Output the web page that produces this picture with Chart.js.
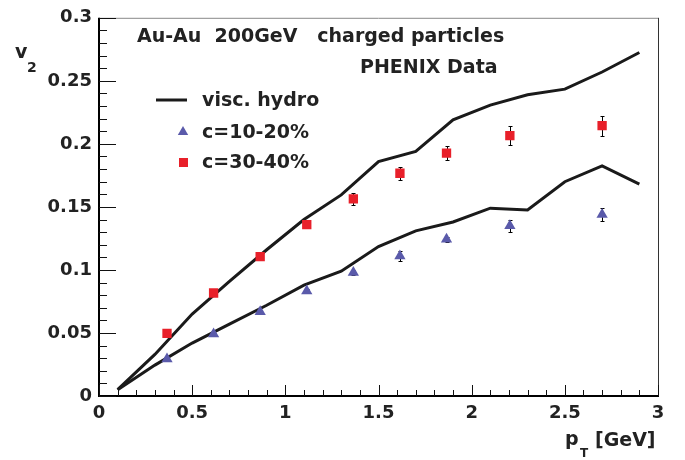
<!DOCTYPE html>
<html lang="en">
<head>
<meta charset="UTF-8">
<title>v2 vs pT - Au-Au 200GeV charged particles</title>
<script src="https://cdn.jsdelivr.net/npm/chart.js"></script>
<style>
    body { margin: 0; background: #fff; }
    canvas { display: block; }
</style>
</head>
<body>
<canvas id="v2Chart" width="685" height="460"></canvas>

<script>
    // viscous hydro curves, one value every 0.2 GeV
    const hydroPt = [0.1, 0.3, 0.5, 0.7, 0.9, 1.1, 1.3, 1.5, 1.7, 1.9, 2.1, 2.3, 2.5, 2.7, 2.9];
    const hydroCentral = [0.005, 0.0245, 0.042, 0.057, 0.072, 0.088, 0.099, 0.1185, 0.131, 0.138, 0.149, 0.1476, 0.170, 0.1825, 0.168];
    const hydroPeripheral = [0.005, 0.033, 0.065, 0.091, 0.116, 0.140, 0.1595, 0.186, 0.194, 0.219, 0.2307, 0.239, 0.2434, 0.257, 0.2725];

    // PHENIX data points
    const dataPt = [0.365, 0.615, 0.865, 1.115, 1.365, 1.615, 1.865, 2.205, 2.7];
    const v2Central = [0.0294, 0.0492, 0.0669, 0.0833, 0.0979, 0.111, 0.1243, 0.135, 0.144];
    const v2CentralErr = [0.001, 0.001, 0.0015, 0.0015, 0.002, 0.004, 0.002, 0.005, 0.005];
    const v2Peripheral = [0.0497, 0.0817, 0.1106, 0.1359, 0.1563, 0.1767, 0.1926, 0.2066, 0.2145];
    const v2PeripheralErr = [0.0015, 0.0015, 0.0015, 0.002, 0.005, 0.005, 0.0055, 0.0073, 0.008];

    const xTicks = [0, 0.5, 1, 1.5, 2, 2.5, 3];
    const xTickLabels = ['0', '0.5', '1', '1.5', '2', '2.5', '3'];
    const yTicks = [0, 0.05, 0.1, 0.15, 0.2, 0.25, 0.3];
    const yTickLabels = ['0', '0.05', '0.1', '0.15', '0.2', '0.25', '0.3'];

    const FONT = 'DejaVu Sans';
    const INK = '#222';
    const BLUE = '#5a5aaa';
    const RED = '#e8202a';

    function toPoints(xs, ys) {
        return xs.map((x, i) => ({ x: x, y: ys[i] }));
    }

    function triangle(ctx, x, y, r) {
        ctx.beginPath();
        ctx.moveTo(x, y - r);
        ctx.lineTo(x + r * 0.866, y + r / 2);
        ctx.lineTo(x - r * 0.866, y + r / 2);
        ctx.closePath();
        ctx.fill();
    }

    // vertical error bars with small caps, under the markers
    const errorBars = {
        id: 'errorBars',
        beforeDatasetsDraw(chart) {
            const ctx = chart.ctx, sx = chart.scales.x, sy = chart.scales.y;
            ctx.save();
            ctx.strokeStyle = '#000';
            ctx.lineWidth = 1;
            chart.data.datasets.forEach(ds => {
                if (!ds.errors) return;
                ds.data.forEach((p, i) => {
                    const px = Math.round(sx.getPixelForValue(p.x)) + 0.5;
                    const top = Math.round(sy.getPixelForValue(p.y + ds.errors[i])) + 0.5;
                    const bot = Math.round(sy.getPixelForValue(p.y - ds.errors[i])) + 0.5;
                    ctx.beginPath();
                    ctx.moveTo(px, top); ctx.lineTo(px, bot);
                    ctx.moveTo(px - 2, top); ctx.lineTo(px + 2, top);
                    ctx.moveTo(px - 2, bot); ctx.lineTo(px + 2, bot);
                    ctx.stroke();
                });
            });
            ctx.restore();
        }
    };

    // frame, inward ticks, titles and legend
    const decorations = {
        id: 'decorations',
        afterDraw(chart) {
            const ctx = chart.ctx, a = chart.chartArea;
            const sx = chart.scales.x, sy = chart.scales.y;
            ctx.save();

            // frame
            ctx.strokeStyle = '#888';
            ctx.lineWidth = 1;
            ctx.beginPath();
            ctx.moveTo(a.left, a.top + 0.5); ctx.lineTo(a.right, a.top + 0.5);
            ctx.stroke();
            ctx.strokeStyle = '#333';
            ctx.beginPath();
            ctx.moveTo(a.right + 0.5, a.top); ctx.lineTo(a.right + 0.5, a.bottom);
            ctx.stroke();
            ctx.strokeStyle = '#000';
            ctx.lineWidth = 2;
            ctx.beginPath();
            ctx.moveTo(a.left, a.top); ctx.lineTo(a.left, a.bottom);
            ctx.lineTo(a.right + 1, a.bottom);
            ctx.stroke();

            // ticks
            ctx.lineWidth = 1;
            ctx.strokeStyle = '#111';
            ctx.beginPath();
            for (let i = 0; i <= 30; i++) {
                const py = Math.round(sy.getPixelForValue(i / 100)) + 0.5;
                ctx.moveTo(a.left, py);
                ctx.lineTo(a.left + (i % 5 === 0 ? 17 : 8), py);
                const px = Math.round(sx.getPixelForValue(i / 10)) + 0.5;
                ctx.moveTo(px, a.bottom);
                ctx.lineTo(px, a.bottom - (i % 5 === 0 ? 11 : 6));
            }
            ctx.stroke();

            // header
            ctx.fillStyle = INK;
            ctx.textBaseline = 'alphabetic';
            ctx.font = 'bold 19px ' + FONT;
            ctx.fillText('Au-Au  200GeV   charged particles', 137, 42);
            ctx.fillText('PHENIX Data', 360, 73);

            // legend
            ctx.strokeStyle = '#1a1a1a';
            ctx.lineWidth = 3;
            ctx.beginPath();
            ctx.moveTo(156, 100); ctx.lineTo(187, 100);
            ctx.stroke();
            ctx.fillText('visc. hydro', 202, 106);
            ctx.fillText('c=10-20%', 202, 138);
            ctx.fillText('c=30-40%', 202, 168);
            ctx.fillStyle = BLUE;
            triangle(ctx, 183, 132, 6);
            ctx.fillStyle = RED;
            ctx.fillRect(179, 158, 9, 9);

            // axis titles
            ctx.fillStyle = INK;
            ctx.font = 'bold 19px ' + FONT;
            ctx.fillText('v', 15, 58);
            ctx.fillText('p', 565, 445);
            ctx.fillText('[GeV]', 595, 446);
            ctx.font = 'bold 14px ' + FONT;
            ctx.fillText('2', 27, 72);
            ctx.font = 'bold 12px ' + FONT;
            ctx.fillText('T', 580, 457);

            ctx.restore();
        }
    };

    const tickFont = { family: FONT, size: 18, weight: 'bold' };

    new Chart(document.getElementById('v2Chart'), {
        type: 'scatter',
        data: {
            datasets: [
                {
                    label: 'c=10-20%',
                    data: toPoints(dataPt, v2Central),
                    errors: v2CentralErr,
                    pointStyle: 'triangle',
                    pointRadius: 6.5,
                    backgroundColor: BLUE,
                    borderWidth: 0
                },
                {
                    label: 'c=30-40%',
                    data: toPoints(dataPt, v2Peripheral),
                    errors: v2PeripheralErr,
                    pointStyle: 'rect',
                    pointRadius: 6.6,
                    backgroundColor: RED,
                    borderWidth: 0
                },
                {
                    label: 'visc. hydro 10-20%',
                    data: toPoints(hydroPt, hydroCentral),
                    showLine: true,
                    pointRadius: 0,
                    borderColor: '#1a1a1a',
                    borderWidth: 3,
                    tension: 0
                },
                {
                    label: 'visc. hydro 30-40%',
                    data: toPoints(hydroPt, hydroPeripheral),
                    showLine: true,
                    pointRadius: 0,
                    borderColor: '#1a1a1a',
                    borderWidth: 3,
                    tension: 0
                }
            ]
        },
        options: {
            responsive: false,
            animation: false,
            devicePixelRatio: 1,
            layout: { padding: { top: 17, right: 27, left: 0, bottom: 0 } },
            plugins: {
                legend: { display: false },
                tooltip: { enabled: false }
            },
            scales: {
                x: {
                    type: 'linear',
                    min: 0,
                    max: 3,
                    afterFit: s => { s.height = 64; },
                    afterBuildTicks: s => { s.ticks = xTicks.map(v => ({ value: v })); },
                    grid: { display: false, drawTicks: false },
                    border: { display: false },
                    ticks: {
                        callback: (v, i) => xTickLabels[i],
                        autoSkip: false,
                        maxRotation: 0,
                        padding: 7,
                        color: INK,
                        font: tickFont
                    }
                },
                y: {
                    type: 'linear',
                    min: 0,
                    max: 0.3,
                    afterFit: s => { s.width = 99; },
                    afterBuildTicks: s => { s.ticks = yTicks.map(v => ({ value: v })); },
                    grid: { display: false, drawTicks: false },
                    border: { display: false },
                    ticks: {
                        callback: (v, i) => yTickLabels[i],
                        autoSkip: false,
                        padding: 7,
                        color: INK,
                        font: tickFont
                    }
                }
            }
        },
        plugins: [errorBars, decorations]
    });
</script>
</body>
</html>
